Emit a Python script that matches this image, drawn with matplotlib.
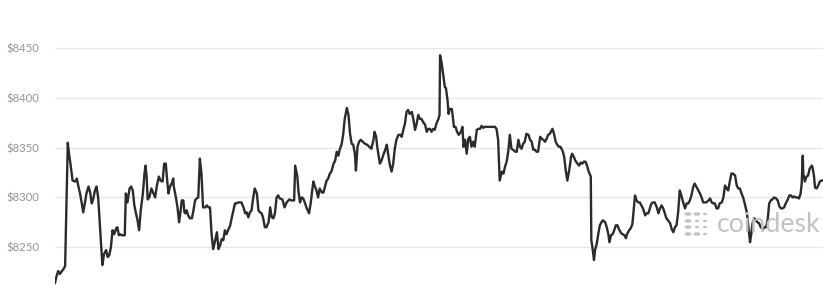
"""BTC price over one day, coindesk-style line chart."""
import matplotlib

matplotlib.use("Agg")
import matplotlib.pyplot as plt  # noqa: E402
from matplotlib.ticker import FuncFormatter  # noqa: E402

# minutes since start of window
minutes = [
    0, 3, 6, 9, 16, 19, 24, 27, 29, 33, 38, 41, 44, 47, 50, 53, 56, 59, 63, 66,
    69, 72, 75, 78, 81, 83, 86, 89, 92, 96, 99, 102, 105, 108, 111, 115, 117,
    120, 122, 125, 128, 131, 133, 136, 140, 143, 146, 149, 152, 155, 158, 161,
    165, 168, 170, 172, 174, 177, 181, 185, 188, 191, 195, 198, 202, 205, 208,
    210, 213, 216, 219, 222, 223, 227, 230, 233, 236, 238, 241, 243, 245, 247,
    250, 253, 257, 260, 263, 266, 269, 272, 275, 278, 282, 285, 288, 291, 294,
    297, 300, 304, 307, 310, 313, 316, 319, 322, 325, 329, 332, 335, 338, 341,
    344, 347, 350, 354, 357, 360, 363, 366, 369, 372, 375, 379, 382, 385, 388,
    391, 394, 397, 401, 404, 407, 410, 413, 416, 419,
    422, 427, 431, 435, 440, 444, 449, 451, 455, 457, 460, 463, 466, 469, 472,
    477, 480, 483, 485, 488, 491, 494, 497, 501, 504, 507, 510, 513, 516, 519,
    523, 526, 529, 532, 535, 538, 541, 544, 548, 551, 554, 557, 560, 563, 565,
    568, 571, 574, 578, 582, 586, 590, 594, 598, 600, 603, 605, 608, 610, 613,
    616, 620, 623, 626, 629, 632, 635, 638, 641, 645, 648, 651, 654, 657, 660,
    663, 666, 670, 673, 676, 679, 682, 685, 688, 691, 695, 698, 701, 704, 707,
    710, 713, 716, 720, 722, 723, 726, 729, 732, 734, 737, 739, 741, 745, 747,
    749, 752, 755, 758, 762, 765, 767, 770, 773, 776, 779, 782, 785, 788, 792,
    795, 798, 801, 804, 807, 814, 820, 826, 829, 832, 835, 839, 842, 845, 848,
    851, 854, 857, 860, 864, 867, 870, 873, 876, 879, 882, 885, 889, 892, 895,
    898, 901, 904, 907, 911, 914, 917, 920, 923, 926, 929,
    934, 937, 940, 943, 946, 949, 953, 956, 959, 962, 966, 969, 971, 974, 977,
    981, 984, 987, 990, 993, 996, 999, 1002, 1006, 1007, 1009, 1012, 1014,
    1017, 1020, 1023, 1026, 1029, 1033, 1036, 1039, 1041, 1044, 1047, 1050,
    1053, 1056, 1059, 1063, 1066, 1069, 1072, 1074, 1078, 1081, 1084, 1086,
    1089, 1092, 1095, 1098, 1101, 1104, 1108, 1111, 1114, 1117, 1120, 1123,
    1126, 1130, 1133, 1136, 1139, 1142, 1145, 1148, 1151, 1155, 1158, 1161,
    1164, 1167, 1170, 1173, 1176, 1180, 1183, 1186, 1189, 1192, 1195, 1198,
    1201, 1205, 1208, 1211, 1214, 1217, 1220, 1223, 1227, 1230, 1233, 1236,
    1239, 1242, 1245, 1248, 1252, 1255, 1258, 1261, 1264, 1267, 1270, 1273,
    1277, 1280, 1283, 1286, 1289, 1292, 1295, 1299, 1302, 1305, 1307, 1310,
    1313, 1316, 1319, 1322, 1325, 1329, 1332, 1335, 1338, 1341, 1344, 1347,
    1350, 1354, 1357, 1360, 1363, 1366, 1369, 1372, 1375, 1379, 1382, 1385,
    1388, 1391, 1394, 1397, 1400, 1402, 1404, 1405, 1408, 1411, 1414, 1417,
    1421, 1422, 1425, 1427, 1430, 1433, 1436, 1439, 1442,
]

price = [
    8214, 8221, 8226, 8223, 8228, 8231, 8355, 8341, 8334, 8317, 8316, 8319,
    8311, 8304, 8295, 8285, 8294, 8304, 8311, 8305, 8294, 8299, 8307, 8311,
    8300, 8284, 8257, 8232, 8243, 8247, 8240, 8242, 8250, 8267, 8263, 8269,
    8270, 8262, 8263, 8262, 8262, 8262, 8304, 8295, 8309, 8311, 8307, 8292,
    8284, 8277, 8267, 8287, 8304, 8324, 8332, 8321, 8298, 8300, 8309, 8304,
    8300, 8311, 8321, 8317, 8316, 8334, 8334, 8321, 8304, 8311, 8314, 8319,
    8311, 8300, 8290, 8275, 8287, 8297, 8297, 8285, 8284, 8287, 8282, 8279,
    8279, 8287, 8297, 8299, 8300, 8339, 8324, 8290, 8290, 8292, 8290, 8290,
    8263, 8248, 8255, 8265, 8248, 8252, 8258, 8257, 8267, 8263, 8267, 8272,
    8280, 8287, 8294, 8294, 8295, 8295, 8295, 8290, 8284, 8285, 8280, 8285,
    8287, 8299, 8309, 8304, 8287, 8285, 8284, 8279, 8270, 8270, 8275, 8290,
    8280, 8279, 8284, 8300, 8302,
    8299, 8298, 8290, 8295, 8298, 8297, 8297, 8332, 8321, 8307, 8295, 8300,
    8299, 8295, 8290, 8284, 8294, 8307, 8316, 8311, 8307, 8300, 8309, 8305,
    8305, 8311, 8317, 8319, 8324, 8326, 8334, 8337, 8346, 8342, 8349, 8353,
    8363, 8379, 8390, 8383, 8364, 8354, 8353, 8344, 8327, 8351, 8356, 8358,
    8356, 8354, 8353, 8351, 8349, 8358, 8366, 8361, 8351, 8341, 8334, 8337,
    8342, 8348, 8353, 8342, 8332, 8326, 8334, 8349, 8358, 8363, 8363, 8361,
    8368, 8374, 8386, 8388, 8384, 8386, 8378, 8368, 8374, 8383, 8379, 8379,
    8376, 8373, 8366, 8369, 8369, 8366, 8369, 8368, 8374, 8379, 8383, 8443,
    8435, 8423, 8411, 8410, 8398, 8384, 8389, 8389, 8381, 8371, 8371, 8366,
    8363, 8366, 8371, 8351, 8358, 8344, 8359, 8361, 8351, 8356, 8351, 8368,
    8369, 8369, 8372, 8370, 8371, 8371, 8371, 8371, 8369, 8358, 8317, 8326,
    8324, 8331, 8336, 8346, 8363, 8349, 8348, 8346, 8346, 8358, 8351, 8349,
    8354, 8356, 8364, 8363, 8358, 8356, 8348, 8348, 8346, 8346, 8361, 8359,
    8358, 8356, 8359, 8363, 8364,
    8369, 8364, 8356, 8353, 8351, 8351, 8347, 8341, 8327, 8317, 8329, 8341,
    8344, 8341, 8337, 8334, 8332, 8335, 8334, 8336, 8336, 8332, 8326, 8321,
    8257, 8250, 8237, 8247, 8253, 8263, 8272, 8275, 8277, 8275, 8270, 8263,
    8255, 8262, 8263, 8267, 8272, 8272, 8268, 8264, 8263, 8262, 8259, 8263,
    8267, 8269, 8273, 8284, 8302, 8297, 8295, 8295, 8292, 8289, 8282, 8284,
    8284, 8289, 8294, 8295, 8295, 8290, 8284, 8289, 8292, 8289, 8284, 8279,
    8277, 8274, 8268, 8265, 8270, 8272, 8285, 8307, 8302, 8294, 8289, 8294,
    8294, 8297, 8302, 8310, 8314, 8310, 8307, 8304, 8300, 8295, 8295, 8295,
    8297, 8299, 8295, 8294, 8294, 8289, 8289, 8294, 8295, 8300, 8312, 8309,
    8307, 8316, 8324, 8324, 8322, 8312, 8309, 8309, 8304, 8300, 8294, 8285,
    8270, 8255, 8262, 8275, 8279, 8277, 8275, 8274, 8270, 8268, 8270, 8270,
    8277, 8294, 8297, 8298, 8300, 8299, 8297, 8291, 8289, 8289, 8290, 8294,
    8297, 8302, 8302, 8300, 8301, 8300, 8300, 8299, 8304, 8314, 8342, 8324,
    8316, 8321, 8322, 8329, 8332, 8331, 8322, 8310, 8309, 8312, 8316, 8317,
    8317,
]

y_ticks = [8250, 8300, 8350, 8400, 8450]

W, H = 823, 306
fig = plt.figure(figsize=(W / 100, H / 100), dpi=100)
fig.patch.set_facecolor("white")
ax = fig.add_axes([55 / W, 0, 1 - 55 / W, 1])
ax.set_facecolor("white")

ax.plot(minutes, price, color="#2b2b2b", linewidth=1.7, zorder=3,
        solid_joinstyle="round")

ax.set_xlim(0, 1442)
ax.set_ylim(8190.8, 8498.6)
ax.set_yticks(y_ticks)
ax.yaxis.set_major_formatter(FuncFormatter(lambda v, _: f"${v:.0f}"))
ax.set_xticks([])
ax.tick_params(axis="y", length=0, pad=11, labelsize=8.2,
               labelcolor="#959595")
for lab in ax.get_yticklabels():
    lab.set_family("Lato")
ax.grid(axis="y", color="#e8e8e8", linewidth=1)
for s in ax.spines.values():
    s.set_visible(False)

# coindesk watermark: dotted bracket logo + wordmark
dot_cols = [688, 697, 705]
dot_rows = [214, 221, 227, 234]
for ci, cx in enumerate(dot_cols):
    for ri, cy in enumerate(dot_rows):
        big = ci == 0 or (ri in (0, 3) and ci < 2)
        fig.patches.append(plt.Circle((cx / W, 1 - cy / H), (2.8 if big else 1.3) / W,
                                      transform=fig.transFigure,
                                      color="#c2c2c2", zorder=1))
fig.text(717 / W, 1 - 232 / H, "coindesk", fontsize=19.3, family="Lato",
         color="#c2c2c2", va="baseline", ha="left", zorder=1)

fig.savefig("out.png", dpi=100, facecolor="white")
